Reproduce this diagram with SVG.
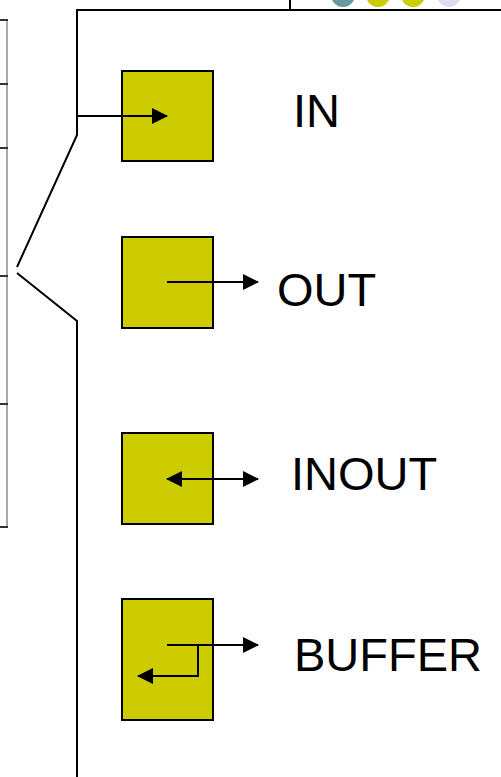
<svg xmlns="http://www.w3.org/2000/svg" width="501" height="777" viewBox="0 0 501 777">
<style>
.box{fill:#CCCC00;stroke:#000;stroke-width:2}
.ln{fill:none;stroke:#000;stroke-width:2}
.lbl{font-family:"Liberation Sans",Arial,sans-serif;font-size:47px;fill:#000}
.tick{stroke:#333;stroke-width:2}
</style>
<defs>
<marker id="ah" markerWidth="16" markerHeight="16" refX="15" refY="8" orient="auto" markerUnits="userSpaceOnUse">
<path d="M0,0 L16,8 L0,16 Z" fill="#000"/>
</marker>
<marker id="ahs" markerWidth="16" markerHeight="16" refX="1" refY="8" orient="auto" markerUnits="userSpaceOnUse">
<path d="M16,0 L0,8 L16,16 Z" fill="#000"/>
</marker>
</defs>
<rect width="501" height="777" fill="#fff"/>
<g id="background">
<line x1="7" y1="20" x2="7" y2="528" stroke="#aaa" stroke-width="2"/>
<line class="tick" x1="0" y1="20" x2="8" y2="20"/>
<line class="tick" x1="0" y1="84" x2="8" y2="84"/>
<line class="tick" x1="0" y1="148" x2="8" y2="148"/>
<line class="tick" x1="0" y1="276" x2="8" y2="276"/>
<line class="tick" x1="0" y1="404" x2="8" y2="404"/>
<line class="tick" x1="0" y1="527" x2="8" y2="527"/>
<circle cx="343" cy="-5" r="12" fill="#669999"/>
<circle cx="378" cy="-5" r="12" fill="#CCCC00"/>
<circle cx="413" cy="-5" r="12" fill="#CCCC00"/>
<circle cx="449" cy="-5" r="12" fill="#DDDDEE"/>
<line x1="290" y1="0" x2="290" y2="10" stroke="#000" stroke-width="2"/>
<path class="ln" d="M501,10 H77 V135 L17,267 M17,273 L77,321 V777"/>
</g>
<g id="in">
<rect class="box" x="122" y="71" width="91" height="90"/>
<text class="lbl" x="293" y="127">IN</text>
</g>
<g id="out">
<rect class="box" x="122" y="237" width="91" height="91"/>
<text class="lbl" x="277" y="306">OUT</text>
</g>
<g id="inout">
<rect class="box" x="122" y="433" width="91" height="91"/>
<text class="lbl" x="291" y="490">INOUT</text>
</g>
<g id="buffer">
<rect class="box" x="122" y="599" width="91" height="121"/>
<text class="lbl" x="294" y="671">BUFFER</text>
</g>
<g id="connectors">
<line class="ln" x1="77" y1="116" x2="167" y2="116" marker-end="url(#ah)"/>
<line class="ln" x1="167" y1="282" x2="258" y2="282" marker-end="url(#ah)"/>
<line class="ln" x1="167" y1="479" x2="258" y2="479" marker-start="url(#ahs)" marker-end="url(#ah)"/>
<line class="ln" x1="167" y1="645" x2="258" y2="645" marker-end="url(#ah)"/>
<polyline class="ln" points="198,645 198,676 138,676" marker-end="url(#ah)"/>
</g>
</svg>
